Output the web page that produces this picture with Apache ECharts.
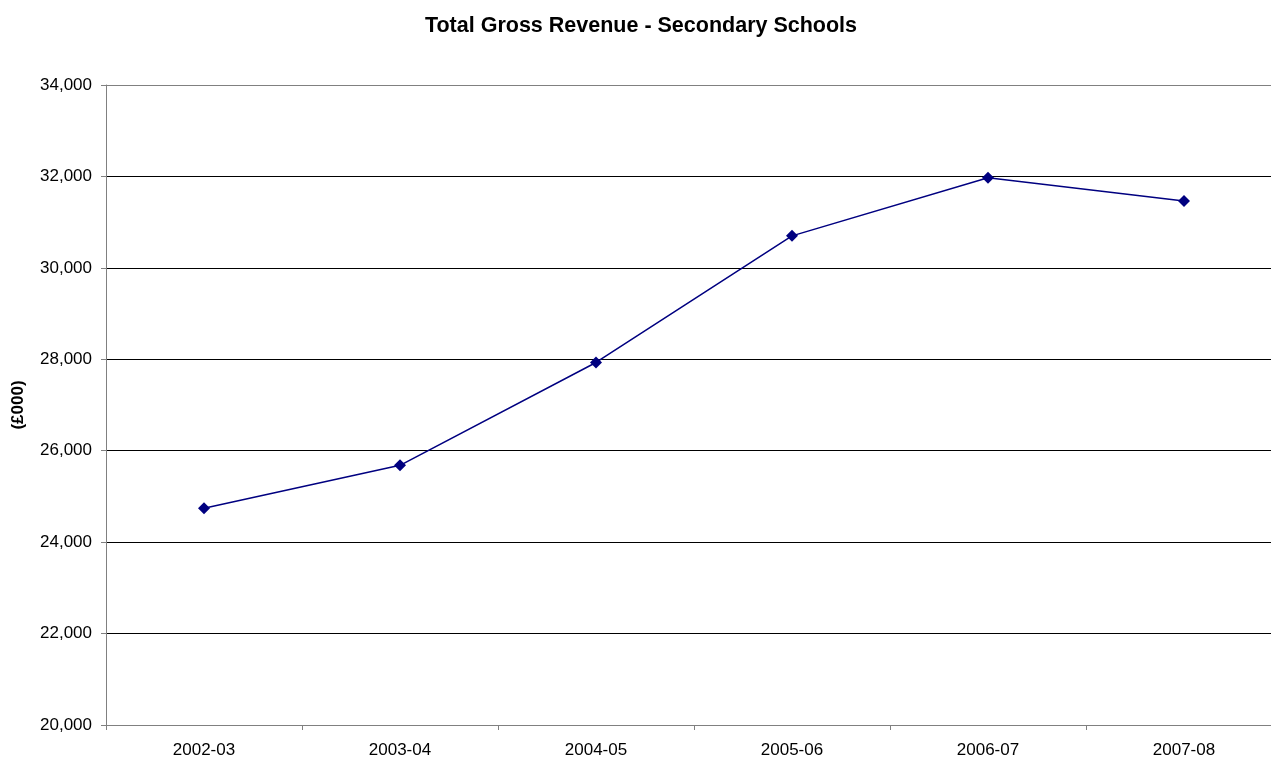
<!DOCTYPE html>
<html><head><meta charset="utf-8">
<script src="https://cdn.jsdelivr.net/npm/echarts@6/dist/echarts.min.js"></script>
<style>html,body{margin:0;padding:0;background:#fff;overflow:hidden}#c{width:1282px;height:759px}</style>
</head><body><div id="c"></div>
<script>
const categories = ['2002-03','2003-04','2004-05','2005-06','2006-07','2007-08'];
const revenue = [24740, 25680, 27930, 30700, 31970, 31460];
const chartTitle = 'Total Gross Revenue - Secondary Schools';
const yName = '(£000)';

const chart = echarts.init(document.getElementById('c'), null, {renderer:'canvas'});
const font = '"Liberation Sans", Arial, sans-serif';
chart.setOption({
  animation:false,
  backgroundColor:'#fff',
  title:{text:chartTitle,left:'center',top:10,textStyle:{fontFamily:font,fontSize:21.5,fontWeight:'bold',color:'#000'}},
  grid:{left:106,top:85,right:0,bottom:33},
  xAxis:{type:'category',data:categories,boundaryGap:true,
    axisLine:{lineStyle:{color:'#808080',width:1}},
    axisTick:{show:true,length:5,alignWithLabel:false,lineStyle:{color:'#808080'}},
    axisLabel:{fontFamily:font,fontSize:17,color:'#000',margin:17},
    splitLine:{show:false}},
  yAxis:{type:'value',min:20000,max:34000,interval:2000,
    name:yName,nameLocation:'middle',nameGap:79,nameRotate:90,
    nameTextStyle:{fontFamily:font,fontSize:17,fontWeight:'bold',color:'#000'},
    axisLine:{show:true,lineStyle:{color:'#808080',width:1}},
    axisTick:{show:true,length:5,lineStyle:{color:'#808080'}},
    axisLabel:{fontFamily:font,fontSize:17,color:'#000',margin:14,
      formatter:v=>v.toLocaleString('en-US')},
    splitLine:{show:true,lineStyle:{color:['#808080','#000','#000','#000','#000','#000','#000','#808080'],width:1}}},
  series:[{type:'line',data:revenue,symbol:'diamond',symbolSize:12,
    lineStyle:{color:'#000080',width:1.5},itemStyle:{color:'#000080'}}]
});
</script></body></html>
